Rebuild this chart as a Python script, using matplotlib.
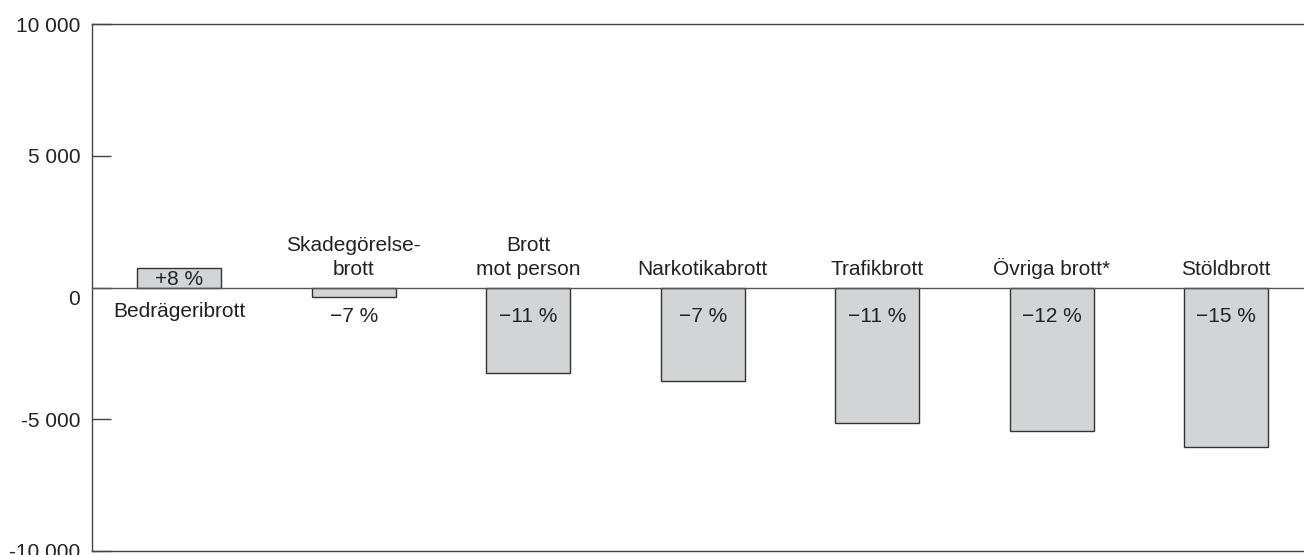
import matplotlib.pyplot as plt
import matplotlib.transforms as mtransforms

categories = ['Bedrägeribrott', 'Skadegörelse-\nbrott', 'Brott\nmot person', 'Narkotikabrott',
              'Trafikbrott', 'Övriga brott*', 'Stöldbrott']
values = [750, -370, -3250, -3550, -5150, -5430, -6060]
pct_labels = ['+8 %', '\u22127 %', '\u221211 %', '\u22127 %', '\u221211 %', '\u221212 %', '\u221215 %']
yticks = [10000, 5000, 0, -5000, -10000]
ytick_labels = ['10 000', '5 000', '0', '-5 000', '-10 000']

plt.rcParams['font.family'] = ['Liberation Sans', 'DejaVu Sans']
txt = '#222222'
fs = 15

fig = plt.figure(figsize=(13.04, 5.55), dpi=100)
ax = fig.add_axes([92 / 1304, 4 / 555, 1 - 92 / 1304 + 0.01, 527 / 555])

x = list(range(len(categories)))
ax.bar(x, values, width=0.48, color='#d3d4d6', edgecolor='#333333', linewidth=1, zorder=2)
ax.axhline(0, color='#555555', linewidth=1, zorder=3)

ax.set_xlim(-0.5, 6.52)
ax.set_ylim(-10000, 10000)

for i, (cat, v, p) in enumerate(zip(categories, values, pct_labels)):
    if v > 0:
        ax.text(i, v / 2 - 60, p, ha='center', va='center', fontsize=fs, color=txt, zorder=4)
        ax.text(i, -900, cat, ha='center', va='center', fontsize=fs, color=txt)
    else:
        ax.text(i, 330, cat, ha='center', va='bottom', fontsize=fs, color=txt,
                linespacing=1.3)
        ax.text(i, -1100, p, ha='center', va='center', fontsize=fs, color=txt, zorder=4)

ax.set_xticks([])
ax.set_yticks(yticks)
ax.set_yticklabels(ytick_labels, fontsize=fs, color=txt)
ax.tick_params(axis='y', direction='in', length=14, width=1, color='#444444', pad=8.5)
for lbl in ax.get_yticklabels():
    if lbl.get_text() == '0':
        lbl.set_transform(lbl.get_transform() +
                          mtransforms.ScaledTranslation(0, -10 / 100, fig.dpi_scale_trans))

for s in ['top', 'bottom', 'left']:
    ax.spines[s].set_color('#444444')
    ax.spines[s].set_linewidth(1)
ax.spines['right'].set_visible(False)

fig.savefig('out.png', dpi=100)
